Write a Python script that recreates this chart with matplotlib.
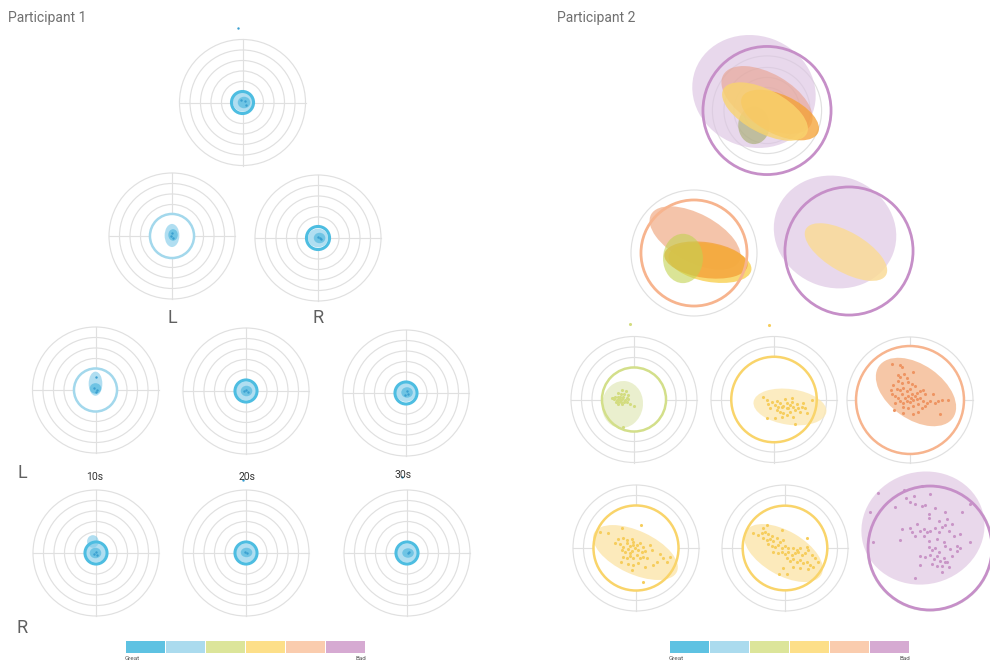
import matplotlib
matplotlib.use('Agg')
import matplotlib.pyplot as plt
from matplotlib.patches import Circle, Ellipse

# ---------------- data (target units: 1 unit = one ring spacing) ----------------
RATING_COLORS = ['#5EC2E2', '#ABDBEE', '#DCE59A', '#FDDF89', '#FACCAE', '#D6AAD2']
RATING_ENDS = ['Great', 'Bad']
P1_COLUMNS = ['10s', '20s', '30s']
P1_ROWS = ['L', 'R']

# Participant 1 : error-circle radius, rating index, blob ellipses (cx, cy, w, h, angle), points
p1_err_r = [1.05, 2.1, 1.1, 2.05, 1.05, 1.05, 1.05, 1.05, 1.05]
p1_rating = [0, 1, 0, 1, 0, 0, 0, 0, 0]
p1_blobs = [
    [(0.05, 0.05, 1.95, 1.85, 0), (0.15, 0.0, 1.2, 1.1, 0)],
    [(0.0, 0.05, 1.4, 2.2, 0), (0.1, 0.1, 0.9, 1.1, 0)],
    [(0.0, 0.0, 1.9, 1.8, 0), (0.15, 0.0, 1.1, 1.0, 0)],
    [(0.0, 0.6, 1.3, 2.3, 0), (0.0, 0.15, 1.1, 1.0, 0)],
    [(0.0, 0.0, 1.9, 1.8, 0), (0.05, 0.0, 1.1, 1.0, 0)],
    [(0.0, 0.05, 1.9, 1.8, 0), (0.1, 0.05, 1.1, 1.0, 0)],
    [(-0.3, 1.1, 1.1, 1.2, 0), (0.0, 0.0, 1.9, 1.8, 0), (-0.05, 0.0, 1.1, 1.0, 0)],
    [(0.0, 0.0, 1.9, 1.8, 0), (0.05, 0.05, 1.1, 0.9, 0)],
    [(0.0, 0.0, 1.9, 1.8, 0), (0.1, 0.0, 1.1, 0.9, 0)],
]
p1_points = [
    [(-0.43, 7.1), (0.2, 0.1), (-0.1, 0.2), (0.3, -0.2)],
    [(0.0, 0.3), (0.1, -0.2), (-0.1, 0.0)],
    [(0.2, 0.0), (0.0, 0.1), (0.3, -0.1)],
    [(0.0, 1.2), (-0.1, 0.2), (0.15, 0.0), (0.0, -0.2)],
    [(0.0, 0.1), (0.2, -0.1), (-0.2, 0.0)],
    [(0.1, 0.2), (0.2, -0.1), (-0.1, -0.2)],
    [(0.0, 0.1), (-0.15, -0.1), (0.1, -0.2)],
    [(-0.3, 6.95), (0.1, 0.0), (-0.1, 0.1)],
    [(-0.5, 7.2), (0.1, 0.0), (0.2, 0.1)],
]

# Participant 2
p2_top_ell = [(-1.24, 1.81, 11.9, 10.6, -20), (-1.24, -1.4, 3.0, 3.6, 0),
              (0.0, 1.0, 9.6, 5.0, -30), (1.24, -0.43, 8.0, 3.8, -25),
              (-0.19, -0.1, 9.0, 4.1, -28)]
p2_top_ell_colors = ['#DCC4E2', '#9EA85E', '#E8A08C', '#F5A030', '#F9D46E']
p2_top_ell_alpha = [0.65, 0.55, 0.6, 0.75, 0.8]
p2_top_rings = [1.2, 2.2, 3.15, 4.1, 5.2]
p2_top_err_r = 6.1

p2_midL_ell = [(0.1, 1.43, 9.5, 4.6, -28), (1.52, -0.95, 8.0, 3.6, -10),
               (1.14, -0.67, 8.0, 3.4, -8), (-1.05, -0.52, 3.8, 4.7, 0)]
p2_midL_ell_colors = ['#EE9E72', '#F8D050', '#F4A33A', '#C2D250']
p2_midL_ell_alpha = [0.6, 0.8, 0.8, 0.6]
p2_midL_err_r = 5.05

p2_midR_ell = [(-1.33, 1.81, 11.8, 10.6, -20), (-0.29, -0.1, 8.8, 3.8, -30)]
p2_midR_ell_colors = ['#DCC4E2', '#FADB98']
p2_midR_ell_alpha = [0.65, 0.85]
p2_midR_err_r = 6.1

p2_r3L_ell = (-1.10, -0.48, 3.9, 4.5, -10)
p2_r3L_err_r = 3.05
p2_r3L_pts = [(-1.11, 0.90), (-0.79, 0.81), (-1.49, 0.59), (-1.24, 0.49), (-0.92, 0.52),
              (-0.60, 0.43), (-1.81, 0.27), (-1.56, 0.27), (-1.33, 0.24), (-1.02, 0.24),
              (-0.70, 0.17), (-2.13, 0.11), (-1.87, 0.05), (-1.65, -0.02), (-1.43, 0.02),
              (-1.17, 0.05), (-0.86, -0.02), (-0.54, 0.05), (-1.75, -0.21), (-1.49, -0.21),
              (-1.24, -0.27), (-0.92, -0.21), (-0.70, -0.27), (-1.56, -0.46), (-1.17, -0.46),
              (0.03, -0.59), (-0.38, -0.40), (-1.02, -2.65), (-1.97, 0.17), (-1.33, -0.08),
              (-0.38, 7.19)]

p2_r3M_ell = (1.52, -0.71, 7.0, 3.4, -8)
p2_r3M_err_r = 4.07
p2_r3M_pts = [(-1.02, 0.27), (-0.70, -0.05), (-0.54, -0.46), (-0.22, -0.21), (0.10, -0.52),
              (0.25, -0.14), (0.57, -0.37), (0.73, -0.68), (1.05, 0.05), (1.21, -0.37),
              (1.37, -0.84), (1.52, -0.52), (1.68, -0.21), (1.84, -0.68), (2.00, -1.00),
              (2.16, -0.46), (2.32, -0.84), (2.48, -1.16), (2.63, -0.68), (2.95, -0.84),
              (3.11, -1.32), (0.25, -1.00), (0.57, -1.16), (0.89, -1.32), (1.21, -1.48),
              (1.52, -1.22), (1.84, -1.63), (2.00, -2.37), (-0.70, -1.73), (0.10, -1.73),
              (0.73, -1.63), (-0.38, -0.84), (1.68, 0.11), (2.79, -0.37), (3.59, -0.05),
              (1.21, -0.84), (0.89, -0.59), (0.41, -0.68), (-0.48, 7.1)]

p2_r3R_ell = (0.57, 0.76, 8.6, 5.2, -35)
p2_r3R_err_r = 5.14
p2_r3R_pts = [(-1.75, 3.46), (-0.95, 3.33), (-0.73, 3.14), (-1.17, 2.38), (-0.95, 2.19),
              (-0.54, 2.44), (-0.32, 2.13), (0.32, 2.70), (-1.11, 1.81), (-0.79, 1.65),
              (-0.16, 1.75), (0.16, 1.49), (-1.59, 1.43), (-1.27, 1.02), (-0.95, 0.92),
              (-0.63, 1.17), (-0.32, 0.86), (0.0, 1.02), (0.48, 1.33), (-1.75, 0.54),
              (-1.43, 0.38), (-1.11, 0.22), (-0.79, 0.54), (-0.48, 0.22), (-0.16, 0.38),
              (0.16, 0.54), (0.63, 0.70), (0.95, 0.86), (1.27, 0.92), (1.43, 0.60),
              (-1.43, -0.25), (-0.95, -0.10), (-0.63, -0.25), (-0.32, -0.10), (0.0, -0.16),
              (0.32, -0.03), (0.63, 0.06), (0.95, 0.22), (1.27, -0.10), (1.59, -0.25),
              (1.90, -0.10), (2.22, 0.54), (2.38, -0.25), (2.70, -0.10), (3.08, -0.03),
              (3.65, -0.03), (-1.49, -0.98), (-0.63, -0.67), (-0.16, -0.73), (0.32, -0.57),
              (0.79, -0.41), (1.11, -0.73), (0.32, -1.37), (0.79, -1.11), (2.86, -1.37),
              (-1.81, 0.92), (0.48, 0.38), (0.10, 0.22), (-0.63, -1.21), (1.43, -0.57)]

p2_r4L_ell = (-0.05, -0.43, 8.7, 4.1, -25)
p2_r4L_err_r = 4.05
p2_r4L_pts = [(-3.43, 1.56), (-2.63, 1.40), (-1.37, 1.87), (0.44, 2.19), (-1.68, 0.86),
              (-1.21, 0.98), (-0.89, 0.76), (-0.41, 0.86), (-2.00, 0.44), (-1.52, 0.35),
              (-1.21, 0.13), (-0.89, 0.44), (-0.57, 0.22), (-0.25, 0.54), (0.06, 0.29),
              (0.38, 0.44), (0.70, 0.13), (1.33, 0.29), (-1.37, -0.19), (-1.05, -0.35),
              (-0.73, -0.10), (-0.41, -0.29), (-0.10, -0.03), (0.22, -0.19), (0.54, -0.41),
              (0.86, -0.29), (1.49, -0.19), (2.29, -0.60), (2.60, -0.98), (3.24, -0.83),
              (2.98, -1.30), (-1.21, -0.83), (-0.89, -0.98), (-0.57, -0.73), (-0.25, -0.92),
              (0.06, -0.67), (0.38, -0.98), (0.70, -0.83), (-1.46, -1.30), (-0.73, -1.56),
              (-0.25, -1.62), (0.22, -1.46), (0.86, -1.78), (1.65, -1.62), (-0.41, -2.10),
              (0.63, -3.21), (-0.25, 0.29), (-0.57, -0.51), (1.02, -0.98), (1.97, -1.30)]

p2_r4M_ell = (-0.14, -0.48, 8.3, 4.2, -30)
p2_r4M_err_r = 4.03
p2_r4M_pts = [(-3.02, 1.40), (-2.13, 1.87), (-1.68, 2.19), (-0.32, 1.71), (2.06, 0.98),
              (-2.54, 1.24), (-2.22, 1.40), (-1.90, 1.56), (-1.59, 1.30), (-1.27, 1.17),
              (-2.06, 0.92), (-1.75, 0.76), (-1.43, 0.86), (-1.11, 0.67), (-0.79, 0.92),
              (-0.48, 0.60), (-0.16, 0.76), (-1.59, 0.35), (-1.27, 0.22), (-0.95, 0.13),
              (-0.63, 0.29), (-0.32, 0.03), (0.00, 0.22), (0.32, -0.03), (0.79, 0.03),
              (1.11, -0.19), (1.43, -0.03), (2.06, 0.13), (-1.11, -0.35), (-0.63, -0.51),
              (-0.32, -0.35), (0.00, -0.60), (0.32, -0.41), (0.63, -0.67), (0.95, -0.51),
              (1.27, -0.35), (1.59, -0.67), (1.90, -0.51), (2.22, -0.19), (2.54, -0.67),
              (2.86, -0.98), (3.17, -1.30), (0.16, -0.98), (0.48, -1.24), (0.79, -1.05),
              (1.11, -1.30), (1.43, -1.14), (1.75, -1.46), (2.06, -1.30), (2.38, -1.62),
              (2.70, -1.78), (0.79, -1.78), (-0.16, -1.94), (-0.54, -2.51), (0.16, -2.51),
              (1.43, -1.94), (2.22, -2.00)]

p2_r4R_ell = (-0.67, 1.90, 11.8, 10.7, 15)
p2_r4R_err_r = 5.9
p2_r4R_pts = [(-4.98, 5.24), (-5.68, 3.46), (-5.43, 0.60), (-2.51, 5.56), (-0.76, 5.87),
              (-0.03, 5.14), (-2.25, 4.73), (-1.87, 4.41), (-1.56, 4.92), (-1.40, 4.19),
              (-0.76, 3.97), (-0.44, 4.10), (-3.30, 3.87), (0.51, 3.78), (1.46, 3.40),
              (-0.13, 3.24), (-0.13, 2.83), (0.83, 2.60), (1.62, 2.76), (2.10, 2.29),
              (3.05, 3.40), (3.84, 4.19), (-2.67, 1.81), (-1.87, 1.87), (-1.71, 1.49),
              (-1.24, 2.29), (-0.92, 1.65), (-0.60, 1.81), (-0.29, 1.49), (0.03, 1.65),
              (0.51, 1.87), (0.83, 1.56), (1.14, 1.97), (1.46, 2.19), (1.78, 1.65),
              (-2.83, 0.79), (-1.40, 1.17), (-0.13, 0.70), (0.67, 0.86), (1.30, 0.60),
              (2.25, 1.17), (2.89, 1.33), (3.84, 0.54), (-0.13, 0.06), (0.19, -0.16),
              (0.51, -0.03), (0.83, -0.35), (1.46, 0.16), (1.94, -0.10), (2.57, 0.16),
              (2.89, -0.03), (-0.92, -0.73), (-0.44, -0.89), (0.03, -0.67), (0.35, -1.05),
              (0.67, -0.79), (0.98, -1.21), (1.30, -0.98), (1.62, -1.30), (2.10, -0.79),
              (0.19, -1.52), (0.67, -1.68), (1.14, -1.75), (1.46, -1.37), (1.78, -1.84),
              (-0.92, -1.62), (1.14, -2.32), (-1.40, -2.89), (2.57, -0.25), (-0.60, 1.17)]

# ---------------- drawing ----------------
W, H = 990, 664
PX_PER_UNIT = 10.5
HALF = 8.0
RING_C = '#E0E0E0'

fig = plt.figure(figsize=(W / 100, H / 100), dpi=100)
fig.patch.set_facecolor('white')


def target_axes(cx, cy):
    h = HALF * PX_PER_UNIT
    ax = fig.add_axes([(cx - h) / W, (H - cy - h) / H, 2 * h / W, 2 * h / H])
    ax.set_xlim(-HALF, HALF)
    ax.set_ylim(-HALF, HALF)
    ax.axis('off')
    ax.patch.set_alpha(0)
    return ax


def draw_rings(ax, radii, cross):
    for r in radii:
        ax.add_patch(Circle((0, 0), r, fill=False, ec=RING_C, lw=0.85, zorder=1))
    if cross:
        R = max(radii)
        ax.plot([-R, R], [0, 0], color=RING_C, lw=0.85, zorder=1)
        ax.plot([0, 0], [-R, R], color=RING_C, lw=0.85, zorder=1)


def draw_err(ax, r, color, fill=True, lw=2.0):
    if fill:
        ax.add_patch(Circle((0, 0), r, fc='white', ec='none', zorder=2))
    ax.add_patch(Circle((0, 0), r, fill=False, ec=color, lw=lw, zorder=6, clip_on=False))


def draw_ell(ax, e, color, alpha, z=3):
    cx, cy, w, h, a = e
    ax.add_patch(Ellipse((cx, cy), w, h, angle=a, fc=color, ec='none', alpha=alpha,
                         zorder=z, clip_on=False))


def draw_pts(ax, pts, color, s=5):
    ax.scatter([p[0] for p in pts], [p[1] for p in pts], s=s, c=color, lw=0,
               zorder=5, clip_on=False)


RINGS6 = [1, 2, 3, 4, 5, 6]
ERR_EDGE = ['#4DBDE1', '#A3D8EC', '#D3DF8A', '#F9D46A', '#F7B48E', '#C68FC8']

# ---- Participant 1 ----
p1_centers = [(242.5, 102.5), (172, 236), (318, 238),
              (95.5, 390), (246, 391), (406, 393),
              (96, 553), (246, 553), (407, 553)]
for i, (cx, cy) in enumerate(p1_centers):
    ax = target_axes(cx, cy)
    draw_rings(ax, RINGS6, True)
    draw_err(ax, p1_err_r[i], ERR_EDGE[p1_rating[i]], lw=2.2 if p1_rating[i] == 0 else 1.8)
    blobs = p1_blobs[i]
    for j, e in enumerate(blobs):
        last = j == len(blobs) - 1
        draw_ell(ax, e, '#4DB6DE' if last else '#7CC9E8', 0.65 if last else 0.6)
    draw_pts(ax, p1_points[i], '#3A9FD0', s=3)

# ---- Participant 2 ----
# top
ax = target_axes(767, 110.5)
draw_rings(ax, p2_top_rings, False)
for e, c, a in zip(p2_top_ell, p2_top_ell_colors, p2_top_ell_alpha):
    draw_ell(ax, e, c, a)
draw_err(ax, p2_top_err_r, ERR_EDGE[5], fill=False)

# row 2 left
ax = target_axes(694, 253)
draw_rings(ax, RINGS6, False)
draw_err(ax, p2_midL_err_r, ERR_EDGE[4])
for e, c, a in zip(p2_midL_ell, p2_midL_ell_colors, p2_midL_ell_alpha):
    draw_ell(ax, e, c, a)

# row 2 right
ax = target_axes(849, 251)
draw_rings(ax, RINGS6, False)
draw_err(ax, p2_midR_err_r, ERR_EDGE[5])
for e, c, a in zip(p2_midR_ell, p2_midR_ell_colors, p2_midR_ell_alpha):
    draw_ell(ax, e, c, a)

# row 3
ax = target_axes(634, 399.5)
draw_rings(ax, RINGS6, True)
draw_err(ax, p2_r3L_err_r, ERR_EDGE[2], lw=1.8)
draw_ell(ax, p2_r3L_ell, '#E8EEC9', 0.9)
draw_pts(ax, p2_r3L_pts, '#D3DC80')

ax = target_axes(774, 399.5)
draw_rings(ax, RINGS6, True)
draw_err(ax, p2_r3M_err_r, ERR_EDGE[3], lw=1.8)
draw_ell(ax, p2_r3M_ell, '#FCE8B2', 0.8)
draw_pts(ax, p2_r3M_pts, '#F6CD5C')

ax = target_axes(910, 400)
draw_rings(ax, RINGS6, True)
draw_err(ax, p2_r3R_err_r, ERR_EDGE[4], lw=1.8)
draw_ell(ax, p2_r3R_ell, '#F5BE98', 0.85)
draw_pts(ax, p2_r3R_pts, '#EE9462')

# row 4
ax = target_axes(636, 548)
draw_rings(ax, RINGS6, True)
draw_err(ax, p2_r4L_err_r, ERR_EDGE[3], lw=1.8)
draw_ell(ax, p2_r4L_ell, '#FCE5AA', 0.8)
draw_pts(ax, p2_r4L_pts, '#F6CD5C')

ax = target_axes(785, 548)
draw_rings(ax, RINGS6, True)
draw_err(ax, p2_r4M_err_r, ERR_EDGE[3], lw=1.8)
draw_ell(ax, p2_r4M_ell, '#FCE5AA', 0.8)
draw_pts(ax, p2_r4M_pts, '#F6CD5C')

ax = target_axes(930, 548)
draw_rings(ax, RINGS6, False)
draw_err(ax, p2_r4R_err_r, ERR_EDGE[5])
draw_ell(ax, p2_r4R_ell, '#E6D2E8', 0.85)
draw_pts(ax, p2_r4R_pts, '#C995C7')


# ---------------- text ----------------
def ftext(x, y, s, **kw):
    fig.text(x / W, 1 - y / H, s, **kw)


FONT = ['Roboto', 'DejaVu Sans']
ftext(8, 18, 'Participant 1', fontsize=10, color='#707070', va='center', family=FONT)
ftext(557, 18, 'Participant 2', fontsize=10, color='#707070', va='center', family=FONT)
ftext(172, 318, P1_ROWS[0], fontsize=13, color='#606060', ha='center', va='center', family=FONT)
ftext(318, 318, P1_ROWS[1], fontsize=13, color='#606060', ha='center', va='center', family=FONT)
ftext(22, 473, P1_ROWS[0], fontsize=13, color='#606060', ha='center', va='center', family=FONT)
ftext(22, 628, P1_ROWS[1], fontsize=13, color='#606060', ha='center', va='center', family=FONT)
for x, y, lab in zip([95, 247, 403], [477, 477, 475], P1_COLUMNS):
    ftext(x, y, lab, fontsize=7.5, color='#333333', ha='center', va='center', family=FONT)

# ---------------- legends ----------------
for x0 in (125, 669):
    lax = fig.add_axes([x0 / W, (H - 653) / H, 241 / W, 12 / H])
    lax.bar(range(len(RATING_COLORS)), [1] * len(RATING_COLORS), width=0.97,
            color=RATING_COLORS)
    lax.set_xlim(-0.5, len(RATING_COLORS) - 0.5)
    lax.set_ylim(0, 1)
    lax.axis('off')
    ftext(x0, 659, RATING_ENDS[0], fontsize=4.5, color='#555555', va='center', family=FONT)
    ftext(x0 + 241, 659, RATING_ENDS[1], fontsize=4.5, color='#555555', va='center',
          ha='right', family=FONT)

fig.savefig('out.png', dpi=100, facecolor='white')
